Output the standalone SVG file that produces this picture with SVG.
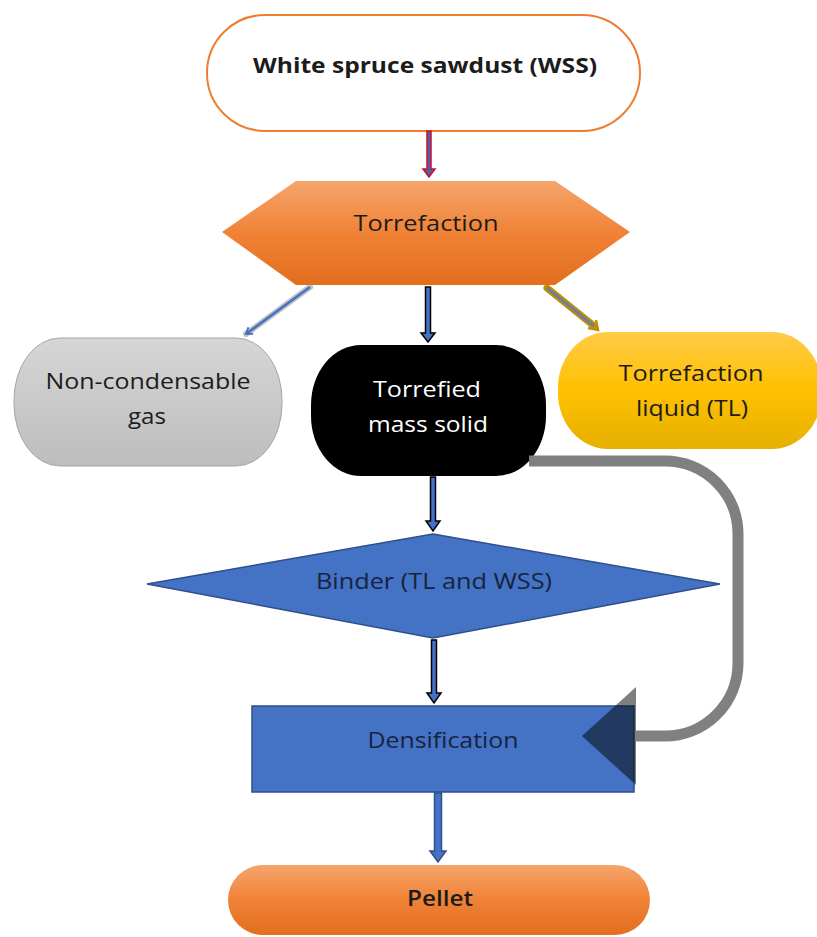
<svg xmlns="http://www.w3.org/2000/svg" width="817" height="937" viewBox="0 0 817 937">
<defs>
<linearGradient id="gOrange" x1="0" y1="0" x2="0" y2="1">
<stop offset="0" stop-color="#F5A56C"/>
<stop offset="0.5" stop-color="#F08236"/>
<stop offset="1" stop-color="#E26E1E"/>
</linearGradient>
<linearGradient id="gYellow" x1="0" y1="0" x2="0" y2="1">
<stop offset="0" stop-color="#FFCB47"/>
<stop offset="0.5" stop-color="#FFC000"/>
<stop offset="1" stop-color="#E5B000"/>
</linearGradient>
<linearGradient id="gGrey" x1="0" y1="0" x2="0" y2="1">
<stop offset="0" stop-color="#D6D6D6"/>
<stop offset="1" stop-color="#BDBDBD"/>
</linearGradient>
<marker id="mBlue" markerWidth="10" markerHeight="10" refX="6" refY="5" orient="auto" markerUnits="userSpaceOnUse">
<path d="M0,1 L6,5 L0,9" fill="none" stroke="#4472C4" stroke-width="2"/>
</marker>
</defs>
<style>
text{font-family:"Open Sans","Liberation Sans",sans-serif;font-size:22px;fill:#1c1c1c;text-anchor:middle}
.bold{font-weight:bold}
.semi{font-weight:600}
.white{fill:#ffffff}
.navy{fill:#18233d}
.blk{fill:#4472C4;stroke:#000;stroke-width:1.5;stroke-linejoin:miter}
</style>

<g id="node-wss">
<rect x="207" y="15" width="433" height="116" rx="58" fill="#fff" stroke="#ED7D31" stroke-width="2"/>
<text class="bold" x="425" y="73" textLength="344" lengthAdjust="spacingAndGlyphs">White spruce sawdust (WSS)</text>
</g>

<g id="node-torrefaction">
<polygon points="222,232 296,181 555,181 630,232 555,285 296,285" fill="url(#gOrange)"/>
<text x="426" y="231" textLength="145" lengthAdjust="spacingAndGlyphs">Torrefaction</text>
</g>

<g id="node-gas">
<rect x="14" y="338" width="268" height="128" rx="46" ry="62" fill="url(#gGrey)" stroke="#A6A6A6" stroke-width="1"/>
<text x="148" y="389" textLength="205" lengthAdjust="spacingAndGlyphs">Non-condensable</text>
<text x="147" y="424" textLength="38" lengthAdjust="spacingAndGlyphs">gas</text>
</g>

<g id="node-solid">
<rect x="311" y="345" width="235" height="131" rx="50" ry="60" fill="#000"/>
<text class="white" x="427" y="397" textLength="108" lengthAdjust="spacingAndGlyphs">Torrefied</text>
<text class="white" x="428" y="432" textLength="120" lengthAdjust="spacingAndGlyphs">mass solid</text>
</g>

<g id="node-liquid">
<rect x="558" y="332" width="264" height="117" rx="50" ry="56" fill="url(#gYellow)"/>
<text x="691" y="381" textLength="145" lengthAdjust="spacingAndGlyphs">Torrefaction</text>
<text x="692" y="416" textLength="112" lengthAdjust="spacingAndGlyphs">liquid (TL)</text>
</g>

<g id="node-binder">
<polygon points="147,584 433,534 720,584 433,638" fill="#4472C4" stroke="#2F4F8A" stroke-width="1.5"/>
<text class="navy" x="434" y="589" textLength="236" lengthAdjust="spacingAndGlyphs">Binder (TL and WSS)</text>
</g>

<g id="node-densification">
<rect x="252" y="706" width="382" height="86" fill="#4472C4" stroke="#2F4F8A" stroke-width="1.5"/>
<text class="navy" x="443" y="748" textLength="151" lengthAdjust="spacingAndGlyphs">Densification</text>
</g>

<g id="node-pellet">
<rect x="228" y="865" width="422" height="70" rx="35" fill="url(#gOrange)"/>
<text class="semi" x="440" y="906" textLength="66" lengthAdjust="spacingAndGlyphs">Pellet</text>
</g>

<g id="connectors">
<path d="M427,131 H431 V169 H435 L429,177 L423,169 H427 Z" fill="#5160A8" stroke="#C8102E" stroke-width="1.5"/>
<line x1="310" y1="287" x2="246" y2="334" stroke="#9A9A9A" stroke-width="6" stroke-opacity="0.6" stroke-linecap="round"/>
<line x1="310" y1="287" x2="246" y2="334" stroke="#4472C4" stroke-width="2.5" marker-end="url(#mBlue)"/>
<line x1="547" y1="288" x2="594" y2="326" stroke="#BF9000" stroke-width="7" stroke-linecap="round"/>
<line x1="547" y1="288" x2="594" y2="326" stroke="#6E7FA0" stroke-width="3"/>
<path d="M588,328 L598,330 L596,320" fill="none" stroke="#BF9000" stroke-width="2.5"/>
<path class="blk" d="M425.5,287 H430.5 V333 H435 L428,342 L421,333 H425.5 Z"/>
<path class="blk" d="M430.5,477 H435.5 V521 H440 L433,531 L426,521 H430.5 Z"/>
<path class="blk" d="M431.5,640 H436.5 V693 H441 L434,703 L427,693 H431.5 Z"/>
<path d="M434.5,793 H441.5 V851 H446 L438,862 L430,851 H434.5 Z" fill="#4472C4" stroke="#2F4F8A" stroke-width="1.5"/>
<path d="M529,461 H665 A73,73 0 0 1 738,534 V663 A73,73 0 0 1 665,736 H636" fill="none" stroke="#808080" stroke-width="11"/>
<polygon points="582,736 636,687 636,785" fill="#000" fill-opacity="0.5"/>
</g>
</svg>
